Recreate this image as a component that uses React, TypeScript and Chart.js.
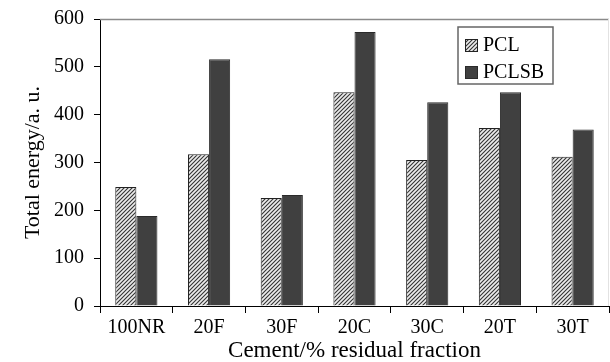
import { useEffect, useRef } from "react";
import { Chart, registerables } from "chart.js";

Chart.register(...registerables);

const categories = ["100NR", "20F", "30F", "20C", "30C", "20T", "30T"];
const pclValues = [249, 317, 226, 447, 305, 372, 312];
const pclsbValues = [188, 516, 232, 573, 426, 447, 369];
const seriesNames = ["PCL", "PCLSB"];
const yTitle = "Total energy/a. u.";
const xTitle = "Cement/% residual fraction";

const FONT = "'Liberation Serif', 'Times New Roman', serif";

function hatchPattern(): CanvasPattern | string {
  const c = document.createElement("canvas");
  c.width = 4;
  c.height = 4;
  const g = c.getContext("2d");
  if (!g) return "#aaa";
  g.fillStyle = "#ececec";
  g.fillRect(0, 0, 4, 4);
  g.strokeStyle = "#333";
  g.lineWidth = 1.1;
  g.beginPath();
  g.moveTo(-1, 5);
  g.lineTo(5, -1);
  g.moveTo(-1, 1);
  g.lineTo(1, -1);
  g.moveTo(3, 5);
  g.lineTo(5, 3);
  g.stroke();
  return g.createPattern(c, "repeat") || "#aaa";
}

// Framed legend in the upper-right corner of the plot, plus the top/right frame lines
const frameAndLegend = {
  id: "frameAndLegend",
  afterDraw(chart: any) {
    const { ctx, chartArea } = chart;
    ctx.save();
    ctx.strokeStyle = "#8a8a8a";
    ctx.lineWidth = 1.5;
    ctx.beginPath();
    ctx.moveTo(chartArea.left, chartArea.top + 0.5);
    ctx.lineTo(chartArea.right, chartArea.top + 0.5);
    ctx.stroke();
    ctx.strokeStyle = "#e2e2e2";
    ctx.lineWidth = 1;
    ctx.beginPath();
    ctx.moveTo(chartArea.right - 0.5, chartArea.top);
    ctx.lineTo(chartArea.right - 0.5, chartArea.bottom);
    ctx.stroke();

    const x0 = chartArea.right - 151;
    const y0 = chartArea.top + 8;
    const w = 95;
    const h = 57;
    ctx.fillStyle = "#fff";
    ctx.fillRect(x0, y0, w, h);
    ctx.strokeStyle = "#666";
    ctx.lineWidth = 1.5;
    ctx.strokeRect(x0, y0, w, h);
    ctx.font = `20px ${FONT}`;
    ctx.textBaseline = "middle";
    ctx.textAlign = "left";
    chart.data.datasets.forEach((ds: any, i: number) => {
      const cy = y0 + 18 + i * 27;
      ctx.fillStyle = ds.backgroundColor;
      ctx.fillRect(x0 + 7, cy - 6, 13, 13);
      ctx.strokeStyle = ds.borderColor;
      ctx.lineWidth = 1;
      ctx.strokeRect(x0 + 7.5, cy - 5.5, 12, 12);
      ctx.fillStyle = "#000";
      ctx.fillText(ds.label, x0 + 25, cy + 1);
    });
    ctx.restore();
  },
};

export default function App() {
  const ref = useRef<HTMLCanvasElement>(null);

  useEffect(() => {
    if (!ref.current) return;
    const chart = new Chart(ref.current, {
      type: "bar",
      data: {
        labels: categories,
        datasets: [
          {
            label: seriesNames[0],
            data: pclValues,
            backgroundColor: hatchPattern() as any,
            borderColor: "#222",
            borderWidth: 1,
            categoryPercentage: 0.58,
            barPercentage: 1,
          },
          {
            label: seriesNames[1],
            data: pclsbValues,
            backgroundColor: "#404040",
            borderColor: "#2a2a2a",
            borderWidth: 1,
            categoryPercentage: 0.58,
            barPercentage: 1,
          },
        ],
      },
      options: {
        responsive: false,
        animation: false,
        layout: { padding: { top: 19, right: 1, left: 0, bottom: 0 } },
        plugins: {
          legend: { display: false },
          tooltip: { enabled: false },
        },
        scales: {
          x: {
            grid: {
              offset: true,
              drawOnChartArea: false,
              tickLength: 7,
              color: "#000",
            },
            border: { display: true, color: "#000", width: 1 },
            ticks: {
              color: "#000",
              font: { family: FONT, size: 20 },
              padding: 3,
              maxRotation: 0,
            },
            title: {
              display: true,
              text: xTitle,
              color: "#000",
              font: { family: FONT, size: 23 },
              padding: { top: 0, bottom: -3 },
            },
            afterFit: (s: any) => {
              s.height = 56;
              s.paddingLeft = 0;
              s.paddingRight = 0;
            },
          },
          y: {
            min: 0,
            max: 600,
            ticks: {
              stepSize: 100,
              color: "#000",
              font: { family: FONT, size: 20 },
              padding: 10,
            },
            grid: {
              drawOnChartArea: false,
              tickLength: 6,
              color: "#000",
            },
            border: { display: true, color: "#000", width: 1 },
            title: {
              display: true,
              text: yTitle,
              color: "#000",
              font: { family: FONT, size: 22 },
              padding: { top: 20, bottom: 0 },
            },
            afterFit: (s: any) => {
              s.width = 100;
              s.paddingTop = 0;
              s.paddingBottom = 0;
            },
          },
        },
      },
      plugins: [frameAndLegend],
    });
    return () => chart.destroy();
  }, []);

  return (
    <div style={{ position: "fixed", left: 0, top: 0, width: 610, height: 362, background: "#fff" }}>
      <canvas ref={ref} width={610} height={362} style={{ display: "block" }} />
    </div>
  );
}
